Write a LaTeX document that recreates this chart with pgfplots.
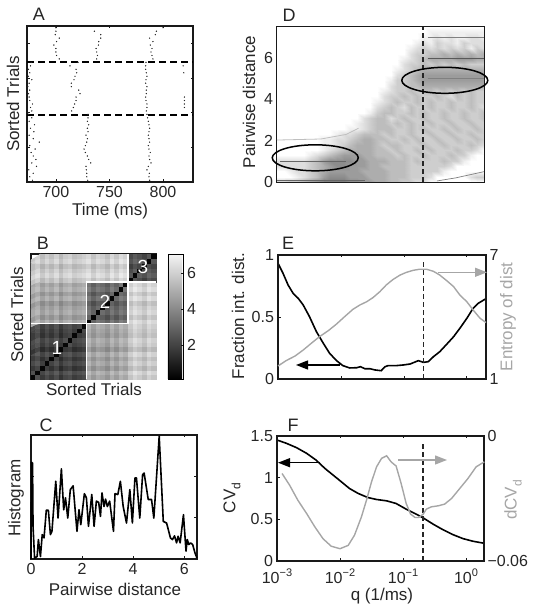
\documentclass[border=0pt]{standalone}
\usepackage{pgfplots}
\pgfplotsset{compat=1.18}
\usepackage{fontspec}
\setmainfont{Liberation Sans}
\usetikzlibrary{arrows.meta}
\definecolor{gl}{gray}{0.65}
\definecolor{ax}{gray}{0.1}
\pgfplotsset{
 base/.style={scale only axis, enlargelimits=false, clip=false, axis line style={ax,line width=1.3pt},
  scaled y ticks=false, scaled x ticks=false,
  tick style={ax,line width=0.7pt}, major tick length=2.5pt, tick label style={font=\fontsize{16}{16}\selectfont,text=black!85},
  xticklabel style={yshift=-1pt}, yticklabel style={xshift=-0.5pt}},
 bl/.style={black,line width=1.6pt},
 gr/.style={gl,line width=1.4pt},
}
\newcommand{\LB}[4][0]{\node[rotate=#1,text=black!85,font=\fontsize{17}{17}\selectfont,inner sep=0pt] at (#2pt,#3pt) {#4};}
\newcommand{\PL}[3]{\node[text=black!85,font=\fontsize{18}{18}\selectfont,inner sep=0pt] at (#1pt,#2pt) {#3};}
\begin{document}
\begin{tikzpicture}[x=1pt,y=1pt]
\path[use as bounding box] (0pt,0pt) rectangle (538pt,612pt);
% ---------- A
\begin{axis}[base, at={(27pt,430pt)}, anchor=south west, width=166pt, height=156pt,
 xmin=673, xmax=828, ymin=0, ymax=45, xtick={700,750,800}, xticklabels={700,750,800},
 ytick={10,20,30,40}, yticklabels={}]
\addplot[only marks, mark=*, mark size=0.42pt, black!85] table {
678.1 .5
675.6 1.5
678.8 2.5
674.7 3.5
681.9 4.5
677.5 5.5
681.3 6.5
678.8 7.5
676.9 8.5
680.6 9.5
675.6 10.5
684.4 11.5
678.8 12.5
675 13.5
679.4 14.5
676.3 15.5
680 16.5
675 17.5
677.5 18.5
674.4 19.5
729.7 .5
728.8 1.5
728.8 2.5
728.4 3.5
728.1 4.5
732.5 5.5
730.6 6.5
729.4 7.5
727.5 8.5
726.3 9.5
727.5 10.5
728.8 11.5
729.4 12.5
728.1 13.5
730 14.5
729.4 15.5
730.6 16.5
729.4 17.5
730 18.5
730 19.5
787.5 .5
786.9 1.5
787.2 2.5
785 3.5
786.3 4.5
788.8 5.5
787.5 6.5
786.9 7.5
788.1 8.5
786.9 9.5
786.3 10.5
787.5 11.5
786.9 12.5
786.3 13.5
786.9 14.5
787.5 15.5
786.9 16.5
786.3 17.5
785.6 18.5
785 19.5
677.5 20.5
676.3 21.5
678.1 22.5
675.6 23.5
675 24.5
674.4 25.5
675.6 26.5
673.8 27.5
675 28.5
677.5 29.5
674.4 30.5
675.6 31.5
674.4 32.5
676.3 33.5
676.9 34.5
714.7 20.5
716.3 21.5
717.5 22.5
718.8 23.5
718.8 24.5
722.5 25.5
721.3 26.5
714.4 27.5
714.4 28.5
716.9 29.5
717.8 30.5
719.4 31.5
718.8 32.5
713.1 33.5
720.6 34.5
784.4 20.5
785 21.5
785 22.5
784.1 23.5
783.8 24.5
784.4 25.5
784.4 26.5
785 27.5
783.8 28.5
784.1 29.5
785 30.5
784.4 31.5
783.8 32.5
783.8 33.5
784.1 34.5
820 21.5
820 22.5
820 23.5
820 24.5
819.4 31.5
818.8 33.5
703.1 35.5
700.6 36.5
700 37.5
700 38.5
698.1 39.5
700.6 40.5
703.1 41.5
699.4 42.5
700 43.5
700 44.5
738.1 35.5
738.8 36.5
738.1 37.5
737.5 38.5
739.7 39.5
740 40.5
741.9 41.5
741.9 42.5
735.9 43.5
790.6 35.5
789.7 36.5
788.8 37.5
789.7 38.5
788.1 39.5
790.6 40.5
787.5 41.5
792.8 42.5
793.8 43.5
800 44.5
};
\addplot[black,line width=2pt,dash pattern=on 7pt off 4pt] coordinates {(673,34.6) (828,34.6)};
\addplot[black,line width=2pt,dash pattern=on 7pt off 4pt] coordinates {(673,19.4) (828,19.4)};
\end{axis}
\PL{39}{598}{A}
\LB[90]{13}{508}{Sorted Trials}
\LB{110}{401}{Time (ms)}
% ---------- D
\begin{axis}[base, at={(277pt,430pt)}, anchor=south west, width=207pt, height=155pt,
 xmin=-3, xmax=0.3, ymin=0, ymax=7.5, xtick={-1.4}, xticklabels={}, ytick={0,2,4,6}, yticklabels={0,2,4,6},
 colormap={dgr}{color(0cm)=(white); color(1cm)=(black!58)}, point meta min=0, point meta max=9]
\addplot[surf, shader=interp, mesh/cols=32, point meta=explicit, on layer=axis background]
 table[x expr={-3+mod(\coordindex,32)*0.10645}, y expr={floor(\coordindex/32)*0.2586}, meta index=0, row sep=\\, header=false] {
3\\3\\4\\4\\5\\6\\7\\8\\8\\8\\8\\7\\7\\6\\6\\5\\5\\4\\4\\3\\3\\2\\2\\0\\0\\0\\0\\0\\0\\0\\0\\0\\
0\\0\\0\\1\\2\\3\\4\\6\\7\\7\\7\\6\\6\\6\\5\\5\\5\\4\\4\\4\\3\\3\\3\\2\\0\\0\\0\\0\\0\\2\\3\\3\\
0\\0\\1\\2\\2\\3\\4\\5\\6\\6\\6\\6\\6\\5\\5\\5\\5\\4\\4\\4\\3\\3\\3\\3\\3\\1\\0\\0\\0\\0\\0\\0\\
2\\2\\2\\2\\2\\3\\4\\5\\6\\7\\7\\6\\6\\6\\5\\5\\4\\4\\4\\4\\3\\3\\3\\3\\3\\3\\2\\0\\0\\0\\0\\0\\
2\\2\\2\\2\\2\\3\\4\\6\\7\\7\\7\\7\\6\\6\\5\\5\\5\\4\\4\\4\\3\\4\\3\\3\\3\\4\\3\\3\\1\\0\\0\\0\\
0\\0\\0\\0\\0\\1\\2\\3\\4\\5\\6\\6\\6\\5\\5\\4\\4\\4\\3\\4\\3\\3\\4\\3\\3\\3\\4\\3\\3\\1\\0\\0\\
0\\0\\0\\0\\0\\0\\0\\1\\2\\3\\4\\5\\5\\5\\5\\4\\4\\3\\4\\3\\3\\4\\3\\4\\3\\3\\3\\4\\3\\3\\2\\0\\
0\\0\\0\\0\\0\\0\\0\\1\\1\\2\\3\\4\\5\\5\\5\\4\\3\\4\\4\\3\\3\\3\\4\\3\\3\\4\\3\\3\\3\\4\\3\\2\\
0\\0\\0\\0\\0\\0\\0\\1\\1\\2\\2\\3\\4\\5\\5\\4\\4\\3\\3\\4\\3\\4\\3\\3\\4\\3\\3\\4\\3\\3\\4\\3\\
0\\0\\0\\0\\0\\0\\0\\0\\0\\1\\2\\2\\3\\4\\4\\4\\3\\4\\3\\3\\4\\3\\3\\4\\3\\3\\4\\3\\3\\4\\3\\3\\
0\\0\\0\\0\\0\\0\\0\\0\\0\\0\\0\\1\\1\\2\\3\\4\\4\\4\\3\\3\\4\\3\\4\\3\\3\\4\\3\\4\\3\\3\\4\\3\\
0\\0\\0\\0\\0\\0\\0\\0\\0\\0\\0\\0\\1\\2\\3\\4\\4\\3\\4\\3\\4\\3\\3\\4\\3\\3\\4\\3\\3\\4\\3\\3\\
0\\0\\0\\0\\0\\0\\0\\0\\0\\0\\0\\0\\0\\2\\3\\4\\4\\2\\3\\4\\3\\3\\4\\3\\3\\4\\3\\3\\4\\3\\3\\4\\
0\\0\\0\\0\\0\\0\\0\\0\\0\\0\\0\\0\\0\\0\\1\\3\\4\\4\\3\\3\\4\\3\\4\\3\\3\\4\\3\\3\\4\\3\\3\\4\\
0\\0\\0\\0\\0\\0\\0\\0\\0\\0\\0\\0\\0\\0\\0\\2\\3\\4\\3\\2\\4\\3\\3\\4\\3\\3\\4\\3\\3\\4\\3\\2\\
0\\0\\0\\0\\0\\0\\0\\0\\0\\0\\0\\0\\0\\0\\0\\1\\2\\3\\4\\3\\3\\4\\3\\4\\3\\3\\4\\3\\3\\4\\3\\3\\
0\\0\\0\\0\\0\\0\\0\\0\\0\\0\\0\\0\\0\\0\\0\\0\\2\\3\\3\\4\\3\\4\\3\\3\\4\\3\\2\\4\\3\\4\\3\\3\\
0\\0\\0\\0\\0\\0\\0\\0\\0\\0\\0\\0\\0\\0\\0\\0\\1\\2\\3\\3\\4\\3\\4\\4\\3\\4\\3\\4\\3\\4\\3\\3\\
0\\0\\0\\0\\0\\0\\0\\0\\0\\0\\0\\0\\0\\0\\0\\0\\0\\2\\3\\3\\4\\4\\5\\5\\5\\5\\5\\5\\5\\5\\5\\5\\
0\\0\\0\\0\\0\\0\\0\\0\\0\\0\\0\\0\\0\\0\\0\\0\\0\\1\\3\\3\\4\\5\\6\\6\\6\\6\\6\\6\\6\\6\\6\\6\\
0\\0\\0\\0\\0\\0\\0\\0\\0\\0\\0\\0\\0\\0\\0\\0\\0\\0\\2\\3\\4\\5\\6\\6\\6\\6\\6\\6\\6\\6\\6\\6\\
0\\0\\0\\0\\0\\0\\0\\0\\0\\0\\0\\0\\0\\0\\0\\0\\0\\0\\1\\2\\3\\4\\5\\5\\5\\5\\5\\5\\5\\5\\5\\5\\
0\\0\\0\\0\\0\\0\\0\\0\\0\\0\\0\\0\\0\\0\\0\\0\\0\\0\\0\\2\\3\\3\\4\\3\\4\\3\\4\\3\\4\\3\\3\\3\\
0\\0\\0\\0\\0\\0\\0\\0\\0\\0\\0\\0\\0\\0\\0\\0\\0\\0\\0\\1\\2\\3\\4\\5\\5\\5\\5\\6\\6\\6\\5\\5\\
0\\0\\0\\0\\0\\0\\0\\0\\0\\0\\0\\0\\0\\0\\0\\0\\0\\0\\0\\0\\2\\3\\3\\4\\4\\5\\4\\5\\4\\5\\4\\5\\
0\\0\\0\\0\\0\\0\\0\\0\\0\\0\\0\\0\\0\\0\\0\\0\\0\\0\\0\\0\\1\\2\\3\\2\\3\\2\\3\\2\\3\\1\\3\\2\\
0\\0\\0\\0\\0\\0\\0\\0\\0\\0\\0\\0\\0\\0\\0\\0\\0\\0\\0\\0\\0\\1\\2\\1\\3\\2\\2\\1\\3\\2\\2\\2\\
0\\0\\0\\0\\0\\0\\0\\0\\0\\0\\0\\0\\0\\0\\0\\0\\0\\0\\0\\0\\0\\0\\1\\1\\2\\1\\2\\1\\1\\2\\2\\1\\
0\\0\\0\\0\\0\\0\\0\\0\\0\\0\\0\\0\\0\\0\\0\\0\\0\\0\\0\\0\\0\\0\\0\\1\\1\\1\\1\\1\\1\\1\\1\\1\\
0\\0\\0\\0\\0\\0\\0\\0\\0\\0\\0\\0\\0\\0\\0\\0\\0\\0\\0\\0\\0\\0\\0\\0\\0\\0\\0\\0\\0\\0\\0\\0\\
};
\addplot[black!60,line width=1.5pt] coordinates {(-2.95,1) (-1.9,1)};
\addplot[black!60,line width=1pt] coordinates {(-3,0.05) (-1.6,0.05)};
\addplot[black!50,line width=0.8pt] coordinates {(-0.6,5) (0.3,5)};
\addplot[black!65,line width=0.8pt] coordinates {(-0.6,6) (0.3,6)};
\addplot[black!50,line width=0.7pt] coordinates {(-0.6,7) (0.3,7)};
\addplot[black!25,line width=0.8pt] coordinates {(-3,2.03) (-2.3,2.08) (-1.9,2.3) (-1.7,2.6)};
\addplot[black!50,line width=0.7pt] coordinates {(-0.45,0.05) (-0.15,0.2) (0.3,0.5)};
\addplot[black!85,line width=1.4pt,dash pattern=on 5pt off 3pt] coordinates {(-0.67,0) (-0.67,7.5)};
\draw[black,line width=1.5pt] (axis cs:-2.39,1.17) ellipse [x radius=43pt, y radius=13pt];
\draw[black,line width=1.5pt] (axis cs:-0.325,4.92) ellipse [x radius=43pt, y radius=13pt];
\end{axis}
\PL{289}{597}{D}
\LB[90]{249}{510}{Pairwise distance}
% ---------- B
\begin{axis}[base, at={(31pt,233pt)}, anchor=south west, width=125pt, height=125pt,
 xmin=-0.5, xmax=26.5, ymin=-0.5, ymax=26.5, xtick=\empty, ytick=\empty,
 colormap={bw}{color(0cm)=(black); color(1cm)=(white!96!black)}, point meta min=0.13, point meta max=7.05,
 colorbar, colorbar style={at={(1.096,0)}, anchor=south west, width=15pt, height=125pt, ytick={2,4,6}, yticklabels={2,4,6},
  ytick pos=right, major tick length=2pt, yticklabel style={xshift=0.5pt}}]
\addplot[matrix plot*, mesh/cols=27, point meta={\thisrowno{0}/10}]
 table[x expr={mod(\coordindex,27)}, y expr={floor(\coordindex/27)}, row sep=\\, header=false] {
3\\24\\17\\22\\18\\23\\16\\21\\23\\18\\20\\22\\50\\44\\49\\47\\43\\50\\45\\51\\48\\56\\61\\58\\54\\60\\57\\
24\\3\\21\\26\\22\\27\\20\\25\\27\\22\\24\\26\\54\\48\\53\\51\\47\\54\\49\\55\\52\\60\\65\\62\\58\\64\\61\\
17\\21\\3\\19\\15\\20\\13\\18\\20\\15\\17\\19\\47\\41\\46\\44\\40\\47\\42\\48\\45\\53\\58\\55\\51\\57\\54\\
22\\26\\19\\3\\20\\25\\18\\23\\25\\20\\22\\24\\52\\46\\51\\49\\45\\52\\47\\53\\50\\58\\63\\60\\56\\62\\59\\
18\\22\\15\\20\\3\\21\\14\\19\\21\\16\\18\\20\\48\\42\\47\\45\\41\\48\\43\\49\\46\\54\\59\\56\\52\\58\\55\\
23\\27\\20\\25\\21\\3\\19\\24\\26\\21\\23\\25\\53\\47\\52\\50\\46\\53\\48\\54\\51\\59\\64\\61\\57\\63\\60\\
16\\20\\13\\18\\14\\19\\3\\17\\19\\14\\16\\18\\46\\40\\45\\43\\39\\46\\41\\47\\44\\52\\57\\54\\50\\56\\53\\
21\\25\\18\\23\\19\\24\\17\\3\\24\\19\\21\\23\\51\\45\\50\\48\\44\\51\\46\\52\\49\\57\\62\\59\\55\\61\\58\\
23\\27\\20\\25\\21\\26\\19\\24\\3\\21\\23\\25\\53\\47\\52\\50\\46\\53\\48\\54\\51\\59\\64\\61\\57\\63\\60\\
18\\22\\15\\20\\16\\21\\14\\19\\21\\3\\18\\20\\48\\42\\47\\45\\41\\48\\43\\49\\46\\54\\59\\56\\52\\58\\55\\
20\\24\\17\\22\\18\\23\\16\\21\\23\\18\\3\\22\\50\\44\\49\\47\\43\\50\\45\\51\\48\\56\\61\\58\\54\\60\\57\\
22\\26\\19\\24\\20\\25\\18\\23\\25\\20\\22\\3\\52\\46\\51\\49\\45\\52\\47\\53\\50\\58\\63\\60\\56\\62\\59\\
50\\54\\47\\52\\48\\53\\46\\51\\53\\48\\50\\52\\3\\30\\35\\33\\29\\36\\31\\37\\34\\61\\66\\63\\59\\65\\62\\
44\\48\\41\\46\\42\\47\\40\\45\\47\\42\\44\\46\\30\\3\\29\\27\\23\\30\\25\\31\\28\\55\\60\\57\\53\\59\\56\\
49\\53\\46\\51\\47\\52\\45\\50\\52\\47\\49\\51\\35\\29\\3\\32\\28\\35\\30\\36\\33\\60\\65\\62\\58\\64\\61\\
47\\51\\44\\49\\45\\50\\43\\48\\50\\45\\47\\49\\33\\27\\32\\3\\26\\33\\28\\34\\31\\58\\63\\60\\56\\62\\59\\
43\\47\\40\\45\\41\\46\\39\\44\\46\\41\\43\\45\\29\\23\\28\\26\\3\\29\\24\\30\\27\\54\\59\\56\\52\\58\\55\\
50\\54\\47\\52\\48\\53\\46\\51\\53\\48\\50\\52\\36\\30\\35\\33\\29\\3\\31\\37\\34\\61\\66\\63\\59\\65\\62\\
45\\49\\42\\47\\43\\48\\41\\46\\48\\43\\45\\47\\31\\25\\30\\28\\24\\31\\3\\32\\29\\56\\61\\58\\54\\60\\57\\
51\\55\\48\\53\\49\\54\\47\\52\\54\\49\\51\\53\\37\\31\\36\\34\\30\\37\\32\\3\\35\\62\\67\\64\\60\\66\\63\\
48\\52\\45\\50\\46\\51\\44\\49\\51\\46\\48\\50\\34\\28\\33\\31\\27\\34\\29\\35\\3\\59\\64\\61\\57\\63\\60\\
56\\60\\53\\58\\54\\59\\52\\57\\59\\54\\56\\58\\61\\55\\60\\58\\54\\61\\56\\62\\59\\3\\26\\23\\19\\25\\22\\
61\\65\\58\\63\\59\\64\\57\\62\\64\\59\\61\\63\\66\\60\\65\\63\\59\\66\\61\\67\\64\\26\\3\\28\\24\\30\\27\\
58\\62\\55\\60\\56\\61\\54\\59\\61\\56\\58\\60\\63\\57\\62\\60\\56\\63\\58\\64\\61\\23\\28\\3\\21\\27\\24\\
54\\58\\51\\56\\52\\57\\50\\55\\57\\52\\54\\56\\59\\53\\58\\56\\52\\59\\54\\60\\57\\19\\24\\21\\3\\23\\20\\
60\\64\\57\\62\\58\\63\\56\\61\\63\\58\\60\\62\\65\\59\\64\\62\\58\\65\\60\\66\\63\\25\\30\\27\\23\\3\\26\\
57\\61\\54\\59\\55\\60\\53\\58\\60\\55\\57\\59\\62\\56\\61\\59\\55\\62\\57\\63\\60\\22\\27\\24\\20\\26\\3\\
};
\addplot[white,line width=1.5pt] coordinates {(11.5,-0.5) (11.5,20.5) (26.5,20.5)};
\addplot[white,line width=1.5pt] coordinates {(-0.5,11.5) (20.5,11.5) (20.5,26.5)};
\end{axis}
\PL{43}{369}{B}
\LB[90]{17}{297}{Sorted Trials}
\LB{94}{223}{Sorted Trials}
\node[white,font=\fontsize{19}{19}\selectfont] at (57pt,264pt) {1};
\node[white,font=\fontsize{19}{19}\selectfont] at (105pt,310pt) {2};
\node[white,font=\fontsize{19}{19}\selectfont] at (143pt,345pt) {3};
% ---------- E
\begin{axis}[base, at={(278pt,233pt)}, anchor=south west, width=208pt, height=124pt,
 xmin=-3, xmax=0.305, ymin=0, ymax=1, xtick={-2,-1,0}, xticklabels={}, ytick={0,0.5,1}, yticklabels={0,0.5,1}, ytick pos=left]
\addplot[bl] coordinates {(-3,.933) (-2.92,.852) (-2.84,.758) (-2.76,.691) (-2.68,.651) (-2.6,.597) (-2.5,.503) (-2.39,.382) (-2.28,.288) (-2.18,.207) (-2.07,.148) (-1.97,.108) (-1.86,.089) (-1.75,.091) (-1.69,.099) (-1.62,.083) (-1.54,.083) (-1.46,.073) (-1.36,.067) (-1.3,.099) (-1.25,.108) (-1.12,.108) (-1.01,.113) (-.9,.121) (-.77,.148) (-.69,.134) (-.61,.14) (-.53,.18) (-.43,.22) (-.32,.28) (-.21,.341) (-.11,.409) (0,.489) (.1,.57) (.18,.61) (.305,.648)};
\addplot[black!85,line width=1.5pt,dash pattern=on 5pt off 3pt] coordinates {(-0.69,0) (-0.69,.946)};
\end{axis}
\begin{axis}[base, at={(278pt,233pt)}, anchor=south west, width=208pt, height=124pt,
 xmin=-3, xmax=0.305, ymin=1, ymax=7, xtick=\empty, ytick={1,7}, yticklabels={1,7}, ytick pos=right, yticklabel pos=right, yticklabel style={xshift=0.5pt}]
\addplot[gr] coordinates {(-3,1.63) (-2.87,1.89) (-2.73,2.11) (-2.6,2.4) (-2.47,2.73) (-2.34,3.05) (-2.2,3.34) (-2.07,3.66) (-1.94,4.02) (-1.81,4.37) (-1.7,4.58) (-1.59,4.74) (-1.49,4.94) (-1.38,5.23) (-1.28,5.55) (-1.17,5.82) (-1.06,6.03) (-.96,6.16) (-.85,6.26) (-.75,6.31) (-.64,6.31) (-.53,6.21) (-.43,6.03) (-.32,5.76) (-.21,5.47) (-.11,5.06) (0,4.74) (.1,4.34) (.21,3.94) (.305,3.73)};
\end{axis}
\PL{288}{369}{E}
\LB[90]{238}{296}{Fraction int. dist.}
\node[rotate=90,gl,font=\fontsize{17}{17}\selectfont,inner sep=0pt] at (508pt,295pt) {Entropy of dist};
\draw[black,line width=1.3pt,-{Triangle[length=12pt,width=9pt]}] (340pt,247pt) -- (296pt,247pt);
\draw[gl,line width=1.3pt,-{Triangle[length=12pt,width=9pt]}] (438pt,339.7pt) -- (487pt,339.7pt);
% ---------- C
\begin{axis}[base, at={(31pt,53pt)}, anchor=south west, width=166pt, height=124pt,
 xmin=0, xmax=6.5, ymin=0, ymax=3, xtick={0,2,4,6}, xticklabels={0,2,4,6}, ytick={1,2}, yticklabels={}]
\addplot[bl,line join=round] coordinates {(0,0) (.02,2.34) (.06,2.32) (.08,.79) (.14,.02) (.24,.06) (.29,.47) (.37,.06) (.44,.59) (.51,.51) (.6,1.18) (.68,1.18) (.76,.59) (.82,.67) (.97,1.88) (1.06,.99) (1.19,2.18) (1.28,1.19) (1.35,1.48) (1.44,.99) (1.54,1.68) (1.65,1.77) (1.8,.67) (1.88,1.19) (1.95,.83) (2.09,1.58) (2.17,1.48) (2.25,.79) (2.38,1.56) (2.47,.79) (2.56,1.4) (2.65,1.37) (2.72,1.03) (2.78,1.6) (2.86,1.27) (2.92,1.45) (2.99,1.27) (3.08,1.4) (3.23,.67) (3.29,1.58) (3.4,1.56) (3.5,1.88) (3.61,1.27) (3.74,.87) (3.87,1.68) (3.97,.87) (4.07,1.96) (4.13,1.96) (4.26,.99) (4.37,2.04) (4.43,2.08) (4.59,1.44) (4.72,1.44) (4.81,.99) (5.02,2.97) (5.18,.91) (5.31,.87) (5.46,.51) (5.54,.47) (5.62,.56) (5.7,.39) (5.76,.55) (5.84,.39) (5.97,1.07) (6.07,.19) (6.12,.47) (6.18,.35) (6.25,.39) (6.33,.35) (6.42,.15) (6.5,.02)};
\end{axis}
\PL{46}{187}{C}
\LB[90]{16}{114}{Histogram}
\LB{115}{23}{Pairwise distance}
% ---------- F
\begin{axis}[base, at={(277pt,51pt)}, anchor=south west, width=207pt, height=125pt,
 xmin=-3, xmax=0.285, ymin=0, ymax=1.5, xtick={-3,-2,-1,0}, xticklabel style={yshift=-3pt},
 xticklabels={10\raisebox{0.45em}{\fontsize{11}{11}\selectfont −3},10\raisebox{0.45em}{\fontsize{11}{11}\selectfont −2},10\raisebox{0.45em}{\fontsize{11}{11}\selectfont −1},10\raisebox{0.45em}{\fontsize{11}{11}\selectfont 0}},
 ytick={0,0.5,1,1.5}, yticklabels={0,0.5,1,1.5}, ytick pos=left]
\addplot[bl] coordinates {(-3,1.452) (-2.85,1.412) (-2.69,1.36) (-2.53,1.292) (-2.38,1.211) (-2.24,1.111) (-2.11,1.031) (-1.98,.951) (-1.85,.87) (-1.71,.81) (-1.56,.762) (-1.42,.738) (-1.26,.722) (-1.11,.69) (-.95,.622) (-.79,.562) (-.68,.517) (-.52,.441) (-.37,.377) (-.21,.317) (-.05,.269) (.11,.237) (.285,.213)};
\addplot[black!85,line width=1.5pt,dash pattern=on 5pt off 3pt] coordinates {(-0.68,0) (-0.68,1.41)};
\end{axis}
\begin{axis}[base, at={(277pt,51pt)}, anchor=south west, width=207pt, height=125pt,
 xmin=-3, xmax=0.285, ymin=-0.06, ymax=0, xtick=\empty, ytick={-0.06,0}, yticklabels={−0.06,0}, ytick pos=right, yticklabel pos=right, yticklabel style={xshift=0.5pt}]
\addplot[gr] coordinates {(-2.92,-.018) (-2.8,-.0236) (-2.67,-.0308) (-2.53,-.0372) (-2.4,-.0436) (-2.27,-.0493) (-2.14,-.0529) (-2,-.0541) (-1.87,-.0525) (-1.77,-.0476) (-1.66,-.0388) (-1.58,-.0308) (-1.5,-.022) (-1.42,-.0148) (-1.34,-.0107) (-1.26,-.0095) (-1.19,-.0124) (-1.11,-.0144) (-1.03,-.0228) (-.95,-.0324) (-.88,-.0375) (-.81,-.0391) (-.75,-.0391) (-.68,-.0375) (-.63,-.0351) (-.55,-.034) (-.44,-.0335) (-.34,-.0327) (-.23,-.03) (-.1,-.0252) (.03,-.0204) (.16,-.0148) (.29,-.0124)};
\end{axis}
\PL{293}{187}{F}
\node[rotate=90,text=black!85,font=\fontsize{17}{17}\selectfont,inner sep=0pt] at (232pt,114pt) {CV\raisebox{-0.3em}{\fontsize{12}{12}\selectfont d}};
\node[rotate=90,gl,font=\fontsize{17}{17}\selectfont,inner sep=0pt] at (513pt,112pt) {dCV\raisebox{-0.3em}{\fontsize{12}{12}\selectfont d}};
\LB{382}{16}{q (1/ms)}
\draw[black,line width=1.3pt,-{Triangle[length=12pt,width=9pt]}] (320pt,149.3pt) -- (278pt,149.3pt);
\draw[gl,line width=1.3pt,-{Triangle[length=12pt,width=9pt]}] (398pt,152pt) -- (447pt,152pt);
\end{tikzpicture}
\end{document}
